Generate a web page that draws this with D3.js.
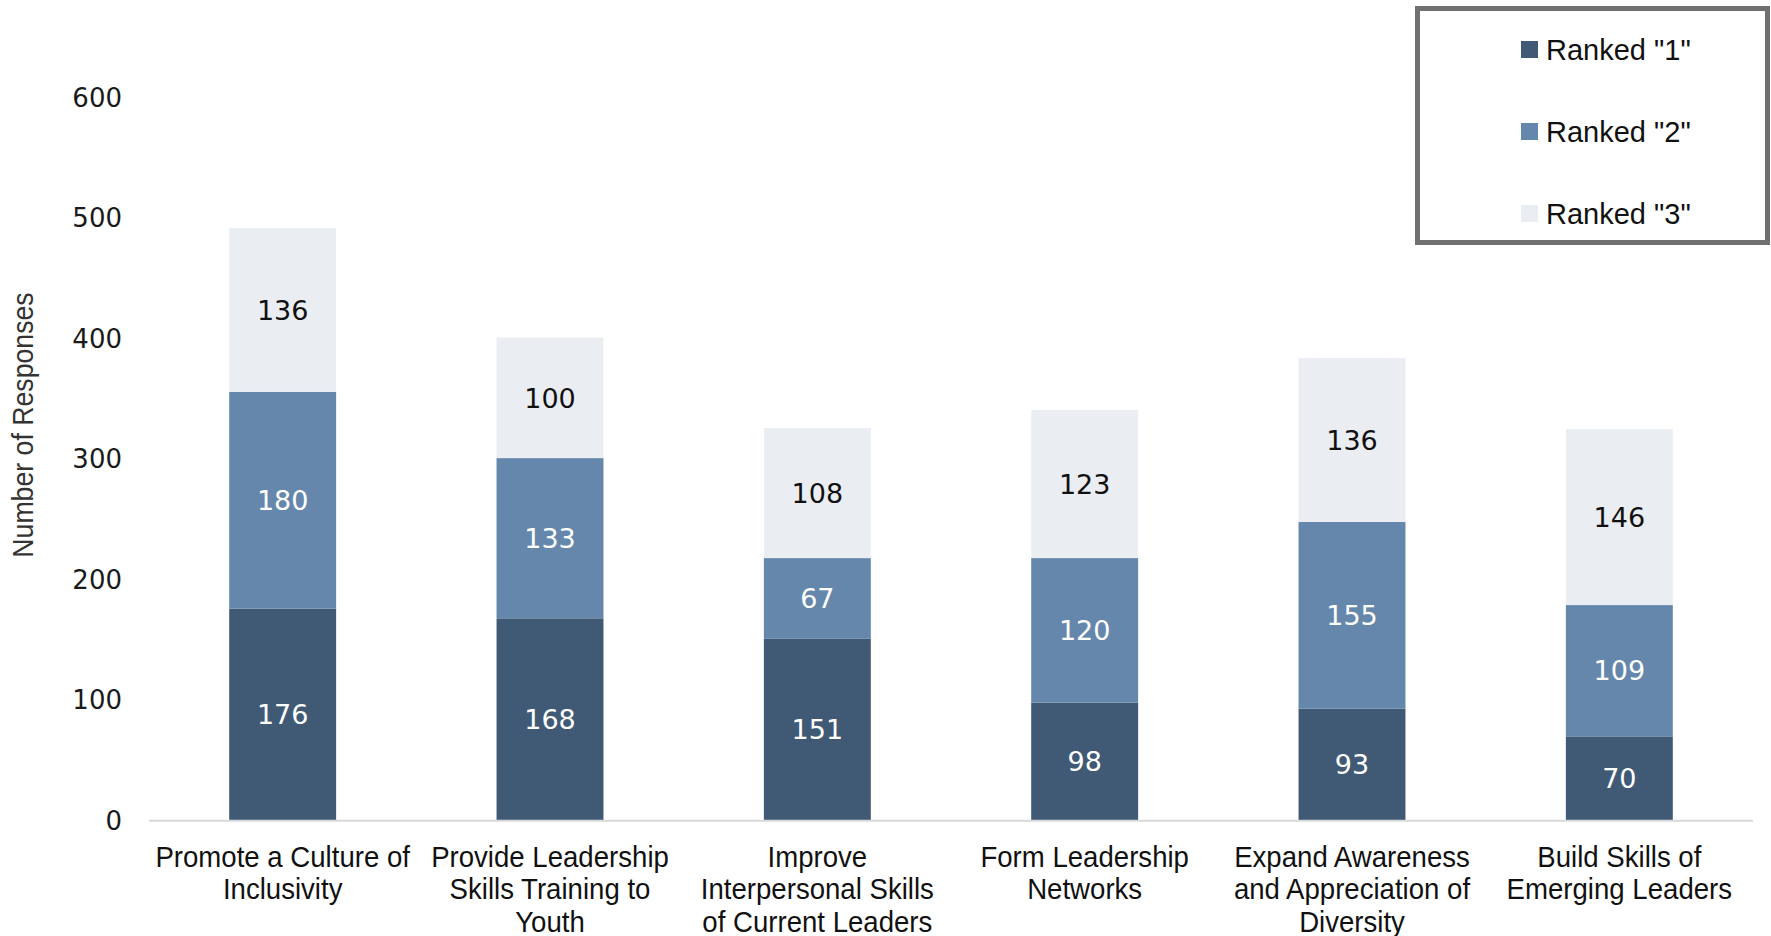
<!DOCTYPE html>
<html>
<head>
<meta charset="utf-8">
<script src="https://cdn.jsdelivr.net/npm/d3@7"></script>
<style>
  html, body { margin: 0; padding: 0; background: #fff; }
  svg { display: block; }
  .num { font-family: "DejaVu Sans", sans-serif; }
  .cond { font-family: "Liberation Sans", Arial, sans-serif; }
  .leg { font-family: "Liberation Sans", Arial, sans-serif; }
</style>
</head>
<body>
<svg id="chart" width="1771" height="936"></svg>
<script>
// Survey results: number of times each leadership goal was ranked 1st, 2nd and 3rd
const categories = [
  ["Promote a Culture of", "Inclusivity"],
  ["Provide Leadership", "Skills Training to", "Youth"],
  ["Improve", "Interpersonal Skills", "of Current Leaders"],
  ["Form Leadership", "Networks"],
  ["Expand Awareness", "and Appreciation of", "Diversity"],
  ["Build Skills of", "Emerging Leaders"]
];
const ranked1 = [176, 168, 151, 98, 93, 70];
const ranked2 = [180, 133, 67, 120, 155, 109];
const ranked3 = [136, 100, 108, 123, 136, 146];
const seriesNames = ['Ranked "1"', 'Ranked "2"', 'Ranked "3"'];
const seriesColors = ["#405a76", "#6587ab", "#eaeef3"];
const labelColors = ["#ffffff", "#ffffff", "#111111"];
const yTicks = [0, 100, 200, 300, 400, 500, 600];

const svg = d3.select("#chart");

// Condensed look for the category and axis titles
const squeeze = 0.92;

const rows = categories.map((c, i) => ({
  key: i,
  r1: ranked1[i],
  r2: ranked2[i],
  r3: ranked3[i]
}));
const keys = ["r1", "r2", "r3"];
const stacked = d3.stack().keys(keys)(rows);

const x = d3.scaleBand()
  .domain(d3.range(categories.length))
  .range([149, 1753])
  .paddingInner(0.6)
  .paddingOuter(0.3);

const y = d3.scaleLinear()
  .domain([0, 600])
  .range([820.7, 97.9]);

// Y axis tick labels (no axis line, no gridlines)
const yAxis = d3.axisLeft(y).tickValues(yTicks).tickSize(0).tickPadding(0);
const yg = svg.append("g")
  .attr("transform", "translate(122,0)")
  .call(yAxis);
yg.select(".domain").remove();
yg.selectAll("text")
  .attr("class", "num")
  .attr("font-size", 26)
  .attr("fill", "#1a1a1a");

// Axis title
svg.append("text")
  .attr("class", "cond")
  .attr("transform", `translate(33,425) rotate(-90) scale(${squeeze},1)`)
  .attr("text-anchor", "middle")
  .attr("font-size", 29)
  .attr("fill", "#333")
  .text("Number of Responses");

// Stacked bars
const layers = svg.append("g").selectAll("g")
  .data(stacked)
  .join("g")
  .attr("fill", (d, i) => seriesColors[i]);

layers.selectAll("rect")
  .data(d => d)
  .join("rect")
  .attr("x", (d, i) => x(i))
  .attr("width", x.bandwidth())
  .attr("y", d => y(d[1]))
  .attr("height", d => y(d[0]) - y(d[1]));

// Segment value labels
const labelLayers = svg.append("g").selectAll("g")
  .data(stacked)
  .join("g")
  .attr("fill", (d, i) => labelColors[i]);

labelLayers.selectAll("text")
  .data(d => d)
  .join("text")
  .attr("class", "num")
  .attr("font-size", 27)
  .attr("text-anchor", "middle")
  .attr("x", (d, i) => x(i) + x.bandwidth() / 2)
  .attr("y", d => (y(d[0]) + y(d[1])) / 2)
  .attr("dy", "0.36em")
  .text(d => d[1] - d[0]);

// Baseline
svg.append("line")
  .attr("x1", 149).attr("x2", 1753)
  .attr("y1", y(0)).attr("y2", y(0))
  .attr("stroke", "#d9d9d9")
  .attr("stroke-width", 2);

// Category labels
const xg = svg.append("g");
categories.forEach((lines, i) => {
  const t = xg.append("g")
    .attr("transform", `translate(${x(i) + x.bandwidth() / 2},0) scale(${squeeze},1)`)
    .append("text")
    .attr("class", "cond")
    .attr("font-size", 30)
    .attr("text-anchor", "middle")
    .attr("fill", "#111");
  lines.forEach((ln, j) => {
    t.append("tspan")
      .attr("x", 0)
      .attr("y", 867 + j * 32.5)
      .text(ln);
  });
});

// Legend
const lg = svg.append("g");
lg.append("rect")
  .attr("x", 1417.5).attr("y", 8.5)
  .attr("width", 350).attr("height", 234)
  .attr("fill", "#fff")
  .attr("stroke", "#707070")
  .attr("stroke-width", 5);
seriesNames.forEach((name, i) => {
  const cy = 49.5 + i * 82;
  lg.append("rect")
    .attr("x", 1521).attr("y", cy - 8.5)
    .attr("width", 17).attr("height", 17)
    .attr("fill", seriesColors[i]);
  lg.append("text")
    .attr("class", "leg")
    .attr("x", 1546).attr("y", cy)
    .attr("dy", "0.36em")
    .attr("font-size", 29)
    .attr("fill", "#111")
    .text(name);
});
</script>
</body>
</html>
